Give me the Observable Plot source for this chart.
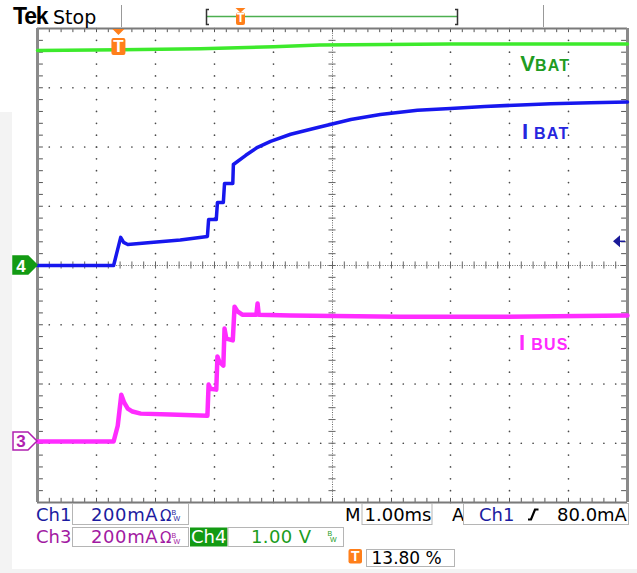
<!DOCTYPE html>
<html><head><meta charset="utf-8">
<script src="https://cdn.jsdelivr.net/npm/d3@7"></script>
<script src="https://cdn.jsdelivr.net/npm/@observablehq/plot@0.6"></script>
<style>
html,body{margin:0;padding:0;background:#fff;}
#wrap{position:relative;width:637px;height:573px;overflow:hidden;background:#fff;}
#wrap svg{position:absolute;left:0;top:0;}
</style></head><body><div id="wrap"></div>
<script>
// ---- Channel settings (read from the readout) ----
const ch1Scale = 200;   // mA/div  (I BAT, blue)
const ch3Scale = 200;   // mA/div  (I BUS, magenta)
const ch4Scale = 1.0;   // V/div   (V BAT, green)
const ch1Offset = 0;    // div
const ch3Offset = -2.97;// div
const ch4Offset = 0;    // div
const timePerDiv = 1.0; // ms/div
const triggerLevel = 80;    // mA on Ch1
const triggerPos = 13.80;   // % of record

// ---- Traces (time in ms from left edge of screen) ----
const ibatTime = [0, 1.29, 1.41, 1.46, 1.53, 1.92, 2.42, 2.88, 2.90, 3.03, 3.05, 3.15, 3.17, 3.31, 3.32, 3.53, 3.73, 3.95, 4.29, 4.75, 5.31, 5.81, 6.44, 7.00, 7.58, 8.19, 8.70, 9.37, 10];
const ibatMA   = [0, 0, 95, 78, 71, 78, 86, 98, 155, 155, 213, 213, 277, 277, 341, 372, 399, 419, 443, 466, 493, 510, 524, 530, 537, 542, 546, 549, 552];

const ibusTime = [0, 1.29, 1.36, 1.42, 1.47, 1.53, 1.61, 1.75, 2.25, 2.88, 2.90, 2.93, 3.03, 3.05, 3.08, 3.15, 3.17, 3.20, 3.31, 3.34, 3.39, 3.47, 3.71, 3.73, 3.75, 4.29, 6.15, 7.85, 10];
const ibusMA   = [0, 0, 53, 158, 131, 111, 101, 94, 91, 87, 192, 178, 175, 287, 270, 256, 381, 347, 341, 455, 439, 428, 428, 466, 428, 425, 421, 421, 425];

const vbatTime = [0, 1.41, 2.76, 4.00, 4.78, 6.99, 10];
const vbatV    = [3.63, 3.64, 3.66, 3.69, 3.72, 3.74, 3.74];

// ---- Trace labels (time ms, screen divisions) ----
const labelMain = ["V", "I", "I"];
const labelSub  = ["BAT", "BAT", "BUS"];
const labelTime = [8.19, 8.22, 8.17];
const labelDiv  = [3.28, 2.12, -1.44];
const labelColor = ["#1f9c22", "#2626de", "#ff2bff"];

// ---- Readout texts ----
const ch1Text = "200mA", ch3Text = "200mA", ch4Text = "1.00 V";
const timeText = "1.00ms", trigLevelText = "80.0mA", trigPosText = "13.80 %";

const ibat = ibatTime.map((t, i) => ({t, v: ibatMA[i]}));
const ibus = ibusTime.map((t, i) => ({t, v: ibusMA[i]}));
const vbat = vbatTime.map((t, i) => ({t, v: vbatV[i]}));

const fine = d3.range(0, 51).map(i => i / 5);        // x every 0.2 div
const fineY = d3.range(0, 41).map(i => -4 + i / 5);   // y every 0.2 div
const majX = [1, 2, 3, 4, 6, 7, 8, 9];
const majY = [-3, -2, -1, 1, 2, 3];
const gridDots = [
  ...majX.flatMap(x => fineY.map(y => ({x, y}))),
  ...majY.flatMap(y => fine.map(x => ({x, y})))
];

const gridCol = "#4a4a4a";
const plot = Plot.plot({
  width: 637, height: 573,
  marginTop: 28, marginRight: 10, marginBottom: 71, marginLeft: 37,
  x: {domain: [0, 10], axis: null},
  y: {domain: [-4, 4], axis: null},
  style: {background: "transparent"},
  marks: [
    Plot.dot(gridDots, {x: "x", y: "y", r: 0.85, fill: gridCol, stroke: null}),
    Plot.ruleX([5], {stroke: "#6a6a6a", strokeDasharray: "1,1.4"}),
    Plot.ruleY([0], {stroke: "#6a6a6a", strokeDasharray: "1,1.4"}),
    Plot.ruleX(fine, {x: d => d, y1: () => -0.06, y2: () => 0.06, stroke: "#666"}),
    Plot.ruleY(fineY, {y: d => d, x1: () => 4.94, x2: () => 5.06, stroke: "#666"}),
    // border ticks
    Plot.ruleX(fine, {x: d => d, y1: () => 4, y2: () => 3.93, stroke: "#555"}),
    Plot.ruleX(fine, {x: d => d, y1: () => -4, y2: () => -3.93, stroke: "#555"}),
    Plot.ruleY(fineY, {y: d => d, x1: () => 0, x2: () => 0.1, stroke: "#555"}),
    Plot.ruleY(fineY, {y: d => d, x1: () => 10, x2: () => 9.9, stroke: "#555"}),
    // frame
    Plot.ruleY([4, -4], {stroke: "#7a7a7a", strokeWidth: 2}),
    Plot.ruleX([0, 10], {stroke: "#8a8a8a", strokeWidth: 3}),
    // traces
    Plot.line(vbat, {x: d => d.t / timePerDiv, y: d => d.v / ch4Scale + ch4Offset, stroke: "#3dea2c", strokeWidth: 3.5}),
    Plot.line(ibat, {x: d => d.t / timePerDiv, y: d => d.v / ch1Scale + ch1Offset, stroke: "#1717ee", strokeWidth: 3.5}),
    Plot.line(ibus, {x: d => d.t / timePerDiv, y: d => d.v / ch3Scale + ch3Offset, stroke: "#ff2cff", strokeWidth: 4.5})
  ]
});
document.getElementById("wrap").appendChild(plot);

const X = plot.scale("x").apply, Y = plot.scale("y").apply;
const svg = d3.select(plot);
const deco = svg.append("g").attr("text-anchor", "start");
// light gray background strips
svg.insert("rect", ":first-child").attr("x", 0).attr("y", 112).attr("width", 12).attr("height", 461).attr("fill", "#f3f3f3");
svg.insert("rect", ":first-child").attr("x", 0).attr("y", 569).attr("width", 637).attr("height", 4).attr("fill", "#f3f3f3");

function txt(x, y, s, o = {}) {
  return deco.append("text").attr("x", x).attr("y", y).text(s)
    .attr("font-family", o.family || "DejaVu Sans")
    .attr("font-size", o.size || 17)
    .attr("font-weight", o.weight || "normal")
    .attr("fill", o.fill || "#000")
    .attr("letter-spacing", o.ls || 0)
    .attr("text-anchor", o.anchor || "start");
}
function box(x, y, w, h, fill = "#fff", stroke = "#b5b5b5") {
  return deco.append("rect").attr("x", x).attr("y", y).attr("width", w).attr("height", h)
    .attr("fill", fill).attr("stroke", stroke).attr("stroke-width", 1);
}
function tBox(cx, y, w, h) {
  deco.append("rect").attr("x", cx - w / 2).attr("y", y).attr("width", w).attr("height", h)
    .attr("rx", 2).attr("fill", "#ff7f1a");
  txt(cx, y + h - 3, "T", {family: "Liberation Sans", weight: "bold", size: h, fill: "#fff", anchor: "middle"});
}

// header
txt(13, 24, "Tek", {family: "Liberation Sans", weight: "bold", size: 23, ls: -1.2});
txt(53, 24, "Stop", {size: 19});
deco.append("line").attr("x1", 121.5).attr("x2", 121.5).attr("y1", 5).attr("y2", 27).attr("stroke", "#999");
deco.append("line").attr("x1", 543.5).attr("x2", 543.5).attr("y1", 5).attr("y2", 27).attr("stroke", "#999");
deco.append("line").attr("x1", 207).attr("x2", 457).attr("y1", 16.5).attr("y2", 16.5).attr("stroke", "#4caf50").attr("stroke-width", 1.5);
deco.append("path").attr("d", "M209,9.5 H206.5 V24.5 H209").attr("fill", "none").attr("stroke", "#333").attr("stroke-width", 1.5);
deco.append("path").attr("d", "M455,9.5 H457.5 V24.5 H455").attr("fill", "none").attr("stroke", "#333").attr("stroke-width", 1.5);
deco.append("path").attr("d", "M235.5,8 L245.5,8 L240.5,12.5 Z").attr("fill", "#ff7f1a");
tBox(240.5, 12.5, 9, 12.5);

// trigger position marker on the graticule
const trigX = X(triggerPos / 10);
deco.append("path").attr("d", `M${trigX - 6},29 L${trigX + 6},29 L${trigX},35 Z`).attr("fill", "#ff7f1a");
tBox(trigX, 38, 14, 17);

// ground markers
function groundMarker(c, num, fill, stroke, tcol) {
  deco.append("path").attr("d", `M13,${c - 9} L28,${c - 9} L37,${c} L28,${c + 9} L13,${c + 9} Z`)
    .attr("fill", fill).attr("stroke", stroke).attr("stroke-width", 1.5);
  txt(21, c + 6.5, num, {size: 17, fill: tcol, anchor: "middle", weight: "bold", family: "Liberation Sans"});
}
groundMarker(Y(ch4Offset), "4", "#139a13", "#139a13", "#fff");
groundMarker(Y(ch3Offset), "3", "#fff", "#b020b0", "#b020b0");

// trigger level arrow (right edge)
const ty = Y(triggerLevel / ch1Scale + ch1Offset);
deco.append("path").attr("d", `M613,${ty} L620,${ty - 6} L620,${ty + 6} Z`).attr("fill", "#1a1a99");
deco.append("line").attr("x1", 619).attr("x2", 625).attr("y1", ty).attr("y2", ty).attr("stroke", "#1a1a99").attr("stroke-width", 1.5);

// trace labels
labelMain.forEach((m, i) => {
  const t = deco.append("text").attr("x", X(labelTime[i])).attr("y", Y(labelDiv[i]))
    .attr("text-anchor", "start")
    .attr("font-family", "Liberation Sans").attr("font-weight", "bold").attr("fill", labelColor[i]);
  t.append("tspan").attr("font-size", 22).text(m);
  t.append("tspan").attr("font-size", 16).attr("letter-spacing", 1.2)
    .attr("dx", m === "I" ? 6 : 0).text(labelSub[i]);
});

// readouts
function ohmBW(x, y, col) {
  txt(x, y, "\u03A9", {size: 15, fill: col});
  txt(x + 11.5, y - 5.5, "B", {size: 7, fill: col, family: "Liberation Sans"});
  txt(x + 13.5, y + 0.5, "W", {size: 7, fill: col, family: "Liberation Sans"});
}
const r1 = 520.5, r2 = 543, r3 = 563.5;
const navy = "#1c1ca0", purple = "#a21aa2", green = "#1c9c1c";
txt(36, r1, "Ch1", {size: 18, fill: navy});
box(72.5, 503.5, 116, 21);
txt(91, r1, ch1Text, {size: 18, fill: navy, ls: 0.6});
ohmBW(160, r1, navy);
txt(36, r2, "Ch3", {size: 18, fill: purple});
box(72.5, 527.5, 116, 19);
txt(91, r2, ch3Text, {size: 18, fill: purple, ls: 0.6});
ohmBW(160, r2, purple);
deco.append("rect").attr("x", 190).attr("y", 527.5).attr("width", 37.5).attr("height", 19).attr("fill", "#139a13");
txt(191, r2, "Ch4", {size: 18, fill: "#fff"});
box(228, 527.5, 115.5, 19);
txt(251, r2, ch4Text, {size: 18, fill: green, ls: 0.4});
txt(327.5, 536, "B", {size: 7, fill: green, family: "Liberation Sans"});
txt(330, 542, "W", {size: 7, fill: green, family: "Liberation Sans"});

txt(345, r1, "M", {size: 18});
box(362, 503.5, 70, 21);
txt(364.5, r1, timeText, {size: 18});
txt(452, r1, "A", {size: 18});
box(463.5, 503.5, 165, 21);
txt(479, r1, "Ch1", {size: 18, fill: navy});
deco.append("path").attr("d", "M528,519.5 L531,519.5 L535,509.5 L538.5,509.5").attr("fill", "none").attr("stroke", "#000").attr("stroke-width", 2.2);
txt(557, r1, trigLevelText, {size: 18});

deco.append("rect").attr("x", 348.5).attr("y", 549).attr("width", 13.5).attr("height", 14.5).attr("rx", 2).attr("fill", "#ff7f1a");
txt(355.2, 561, "T", {family: "Liberation Sans", weight: "bold", size: 14, fill: "#fff", anchor: "middle"});
box(366.5, 549.5, 88, 17);
txt(371.5, r3, trigPosText, {size: 17});
</script>
</body></html>
